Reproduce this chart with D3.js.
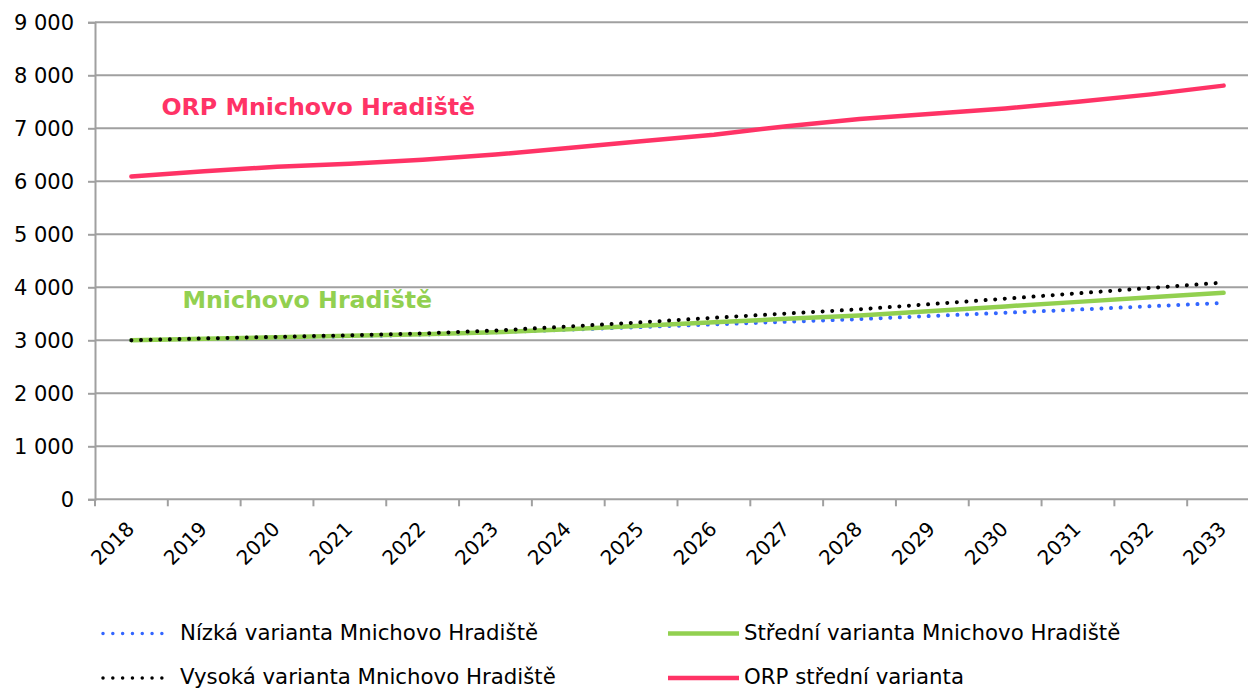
<!DOCTYPE html>
<html>
<head>
<meta charset="utf-8">
<script src="https://cdn.jsdelivr.net/npm/d3@7"></script>
<style>
  html, body { margin: 0; padding: 0; background: #fff; }
  svg { display: block; font-family: "DejaVu Sans", Verdana, sans-serif; }
</style>
</head>
<body>
<div id="chart"></div>
<script>
// Population projection, Mnichovo Hradiště vs. ORP (2018–2033)

const YEARS = ["2018", "2019", "2020", "2021", "2022", "2023", "2024", "2025",
               "2026", "2027", "2028", "2029", "2030", "2031", "2032", "2033"];

const LOW  = [3000, 3025, 3050, 3075, 3105, 3150, 3200, 3250, 3300, 3350, 3400, 3460, 3520, 3580, 3643, 3705];
const MID  = [3000, 3030, 3058, 3085, 3115, 3150, 3210, 3275, 3340, 3405, 3470, 3555, 3640, 3725, 3810, 3895];
const HIGH = [3000, 3035, 3065, 3095, 3130, 3185, 3260, 3340, 3425, 3505, 3585, 3685, 3785, 3887, 3988, 4090];
const ORP  = [6090, 6190, 6275, 6330, 6405, 6505, 6630, 6755, 6880, 7040, 7175, 7275, 7375, 7500, 7640, 7805];

const Y_TICKS = [0, 1000, 2000, 3000, 4000, 5000, 6000, 7000, 8000, 9000];

const SERIES = [
  { label: "Nízká varianta Mnichovo Hradiště",   values: LOW,  color: "#3366ff", dotted: true },
  { label: "Střední varianta Mnichovo Hradiště", values: MID,  color: "#92d050", dotted: false },
  { label: "Vysoká varianta Mnichovo Hradiště",  values: HIGH, color: "#000000", dotted: true },
  { label: "ORP střední varianta",               values: ORP,  color: "#ff3366", dotted: false },
];

const ANNOTATIONS = [
  { text: "ORP Mnichovo Hradiště", year: "2018", value: 7250, dx: 30, color: "#ff3366" },
  { text: "Mnichovo Hradiště",     year: "2018", value: 3610, dx: 51, color: "#92d050" },
];

// ── Layout ───────────────────────────────────────────────────────────────────

const W = 1248, H = 688;
const plot = { left: 95, right: 1260, top: 22.3, bottom: 499.3 };

const svg = d3.select("#chart").append("svg").attr("width", W).attr("height", H);

const x = d3.scaleBand().domain(YEARS).range([plot.left, plot.right]).padding(0);
const y = d3.scaleLinear().domain([0, 9000]).range([plot.bottom, plot.top]);
const cx = d => x(d) + x.bandwidth() / 2;

const GRID = "#a0a0a0";

// gridlines
svg.append("g").selectAll("line").data(Y_TICKS).join("line")
  .attr("x1", plot.left).attr("x2", W)
  .attr("y1", d => y(d)).attr("y2", d => y(d))
  .attr("stroke", GRID).attr("stroke-width", 2);

// y axis
svg.append("g")
  .attr("transform", `translate(${plot.left},0)`)
  .call(d3.axisLeft(y).tickValues(Y_TICKS).tickSize(7).tickPadding(14)
    .tickFormat(d => d3.format(",")(d).replace(/,/g, " ")))
  .call(ax => ax.select(".domain").attr("stroke", GRID).attr("stroke-width", 2))
  .call(ax => ax.selectAll(".tick line").attr("stroke", GRID).attr("stroke-width", 2))
  .call(ax => ax.selectAll("text").attr("font-size", 21).attr("fill", "#000")
    .attr("font-family", "DejaVu Sans, Verdana, sans-serif"));

// x tick marks at band boundaries
const bounds = YEARS.map(d => x(d)).concat([plot.right]);
svg.append("g").selectAll("line").data(bounds).join("line")
  .attr("x1", d => d).attr("x2", d => d)
  .attr("y1", plot.bottom).attr("y2", plot.bottom + 7)
  .attr("stroke", GRID).attr("stroke-width", 2);

// x labels, rotated
svg.append("g").selectAll("text").data(YEARS).join("text")
  .attr("transform", d => `translate(${cx(d) + 4},${plot.bottom + 31}) rotate(-45)`)
  .attr("text-anchor", "end")
  .attr("font-size", 20).attr("fill", "#000")
  .text(d => d);

// series
const line = d3.line().x((v, i) => cx(YEARS[i])).y(v => y(v));

svg.append("g").selectAll("path").data(SERIES).join("path")
  .attr("d", s => line(s.values))
  .attr("fill", "none")
  .attr("stroke", s => s.color)
  .attr("stroke-width", s => s.dotted ? 4 : 4.5)
  .attr("stroke-linecap", "round")
  .attr("stroke-linejoin", "round")
  .attr("stroke-dasharray", s => s.dotted ? "0.01 9.6" : null);

// in-chart labels
svg.append("g").selectAll("text").data(ANNOTATIONS).join("text")
  .attr("x", a => cx(a.year) + a.dx).attr("y", a => y(a.value))
  .attr("font-size", 23.7).attr("font-weight", "bold")
  .attr("fill", a => a.color)
  .text(a => a.text);

// legend (2 × 2)
const LEG_COLS = [103, 668];
const LEG_ROWS = [633.5, 678];
const leg = svg.append("g").selectAll("g").data(SERIES).join("g")
  .attr("transform", (s, i) => `translate(${LEG_COLS[i % 2]},${LEG_ROWS[Math.floor(i / 2)]})`);

leg.append("line")
  .attr("x1", 0).attr("x2", (s, i) => i % 2 ? 71 : 60)
  .attr("stroke", s => s.color)
  .attr("stroke-width", s => s.dotted ? 3.5 : 4.5)
  .attr("stroke-linecap", s => s.dotted ? "round" : "butt")
  .attr("stroke-dasharray", s => s.dotted ? "0.01 9.8" : null);

leg.append("text")
  .attr("x", (s, i) => i % 2 ? 76 : 77).attr("y", 6)
  .attr("font-size", 21.3).attr("fill", "#000")
  .text(s => s.label);
</script>
</body>
</html>
